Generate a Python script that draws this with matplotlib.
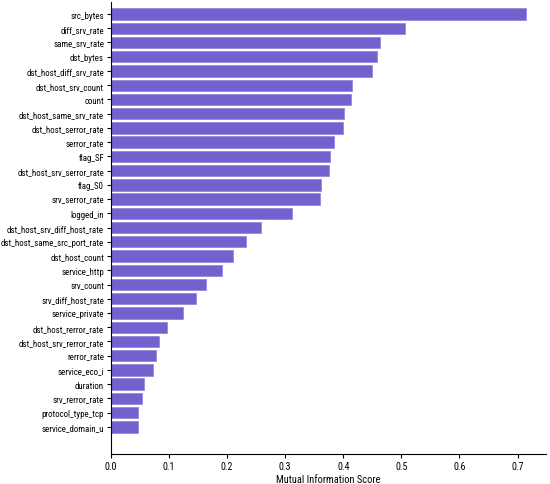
import matplotlib
matplotlib.use("Agg")
import matplotlib.pyplot as plt

plt.rcParams["font.family"] = ["Roboto Condensed", "DejaVu Sans"]

# Features ranked by mutual information score
features = [
    "src_bytes", "diff_srv_rate", "same_srv_rate", "dst_bytes",
    "dst_host_diff_srv_rate", "dst_host_srv_count", "count",
    "dst_host_same_srv_rate", "dst_host_serror_rate", "serror_rate",
    "flag_SF", "dst_host_srv_serror_rate", "flag_S0", "srv_serror_rate",
    "logged_in", "dst_host_srv_diff_host_rate", "dst_host_same_src_port_rate",
    "dst_host_count", "service_http", "srv_count", "srv_diff_host_rate",
    "service_private", "dst_host_rerror_rate", "dst_host_srv_rerror_rate",
    "rerror_rate", "service_eco_i", "duration", "srv_rerror_rate",
    "protocol_type_tcp", "service_domain_u",
]
scores = [
    0.714, 0.507, 0.463, 0.458, 0.450, 0.415, 0.413, 0.402, 0.399, 0.384,
    0.377, 0.376, 0.362, 0.360, 0.312, 0.258, 0.233, 0.210, 0.191, 0.1635,
    0.147, 0.1234, 0.097, 0.083, 0.078, 0.0723, 0.0568, 0.054, 0.0465, 0.0465,
]

fig = plt.figure(figsize=(5.5, 4.85), dpi=100)
ax = fig.add_axes([0.2018, 0.062, 0.791, 0.932])

ypos = list(range(len(features)))
ax.barh(ypos, scores, height=0.8, color="slateblue", alpha=0.95,
        edgecolor="#8a7fd8", linewidth=0.5)
ax.set_yticks(ypos)
ax.set_yticklabels(features, fontsize=6.4)
ax.set_ylim(len(features) + 0.9, -0.85)
ax.set_xlim(0, 0.749)
ax.set_xticks([0.0, 0.1, 0.2, 0.3, 0.4, 0.5, 0.6, 0.7])
ax.tick_params(axis="x", labelsize=7.2, length=3, pad=2)
ax.tick_params(axis="y", length=3, pad=2)
ax.set_xlabel("Mutual Information Score", fontsize=7.5, labelpad=2)

ax.spines["top"].set_visible(False)
ax.spines["right"].set_visible(False)

fig.savefig("out.png", dpi=100)
